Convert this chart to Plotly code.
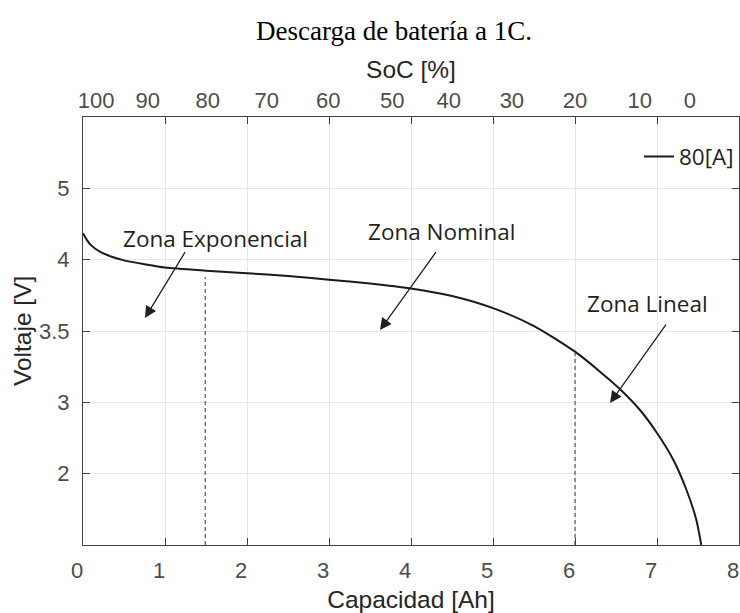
import numpy as np
import plotly.graph_objects as go

# ---- data ----
capacity_ah = [0.0, 0.05, 0.1, 0.2, 0.35, 0.5, 0.75, 1.0, 1.5, 2.0, 2.5, 3.0, 3.5, 4.0, 4.5,
               5.0, 5.5, 6.0, 6.305, 6.55, 6.79, 7.0, 7.2, 7.36, 7.48, 7.54]
voltage_v = [4.37, 4.27, 4.20, 4.115, 4.04, 3.995, 3.968, 3.945, 3.923, 3.905, 3.885, 3.86,
             3.8325, 3.7975, 3.745, 3.66, 3.535, 3.355, 3.215, 3.092, 2.896, 2.57, 2.192,
             1.771, 1.35, 1.0]

# dashed markers separating the zones
zone_limits_ah = [1.49, 6.0]
zone_limits_v = [3.879, 3.346]

# y-axis: evenly spaced labels (non-linear voltage scale)
y_tick_labels = ["2", "3", "3.5", "4", "5"]
y_tick_volts = [1, 2, 3, 3.5, 4, 5, 6]      # volts at axis positions 0..6
y_tick_pos = [0, 1, 2, 3, 4, 5, 6]

x_ticks = [0, 1, 2, 3, 4, 5, 6, 7, 8]

# top SoC axis labels and where they sit on the capacity axis
soc_labels = ["100", "90", "80", "70", "60", "50", "40", "30", "20", "10", "0"]
soc_pos_ah = [0.16, 0.79, 1.52, 2.24, 2.99, 3.77, 4.46, 5.23, 6.0, 6.79, 7.40]


def vpos(v):
    return np.interp(v, y_tick_volts, y_tick_pos)


AX = "#404040"
GRID = "#e6e6e6"
TICKF = dict(family="Liberation Sans, Arial, sans-serif", size=22, color="#4d4d4d")
TITLEF = dict(family="Liberation Sans, Arial, sans-serif", size=24.5, color="#262626")
ANNF = dict(family="Open Sans, sans-serif", size=22.5, color="#231f20")

fig = go.Figure()

fig.add_trace(go.Scatter(x=capacity_ah, y=vpos(voltage_v), mode="lines",
                         line=dict(color="#1a1a1a", width=2, shape="spline", smoothing=0.7),
                         name="80[A]", showlegend=True))

for xa, va in zip(zone_limits_ah, zone_limits_v):
    fig.add_trace(go.Scatter(x=[xa, xa], y=[vpos(1.0), vpos(va)], mode="lines",
                             line=dict(color="#333333", width=1, dash="4px,3px"),
                             showlegend=False, hoverinfo="skip"))

# invisible trace on the top axis so it renders
fig.add_trace(go.Scatter(x=[0, 8], y=[0, 0], xaxis="x2", mode="markers",
                         marker=dict(opacity=0), showlegend=False, hoverinfo="skip"))

fig.update_layout(
    width=740, height=613,
    paper_bgcolor="white", plot_bgcolor="white",
    margin=dict(l=83, r=1, t=117, b=68),
    title=dict(text="Descarga de batería a 1C.", x=394 / 740, xref="container", xanchor="center",
               y=1 - 31 / 613, yref="container", yanchor="middle",
               font=dict(family="Liberation Serif, Times New Roman, serif", size=27, color="#000")),
    xaxis=dict(range=[0, 8], tickvals=x_ticks, ticks="inside", ticklen=7, tickcolor=AX,
               showline=True, linecolor=AX, linewidth=1, mirror="ticks",
               showgrid=True, gridcolor=GRID, gridwidth=1, zeroline=False,
               tickfont=TICKF, ticklabelstandoff=6, ticklabelshift=-6,
               ticklabeloverflow="allow", automargin=False,
               title=dict(text="Capacidad [Ah]", font=TITLEF, standoff=12)),
    xaxis2=dict(overlaying="x", side="top", range=[0, 8], tickvals=soc_pos_ah,
                ticktext=soc_labels, ticks="", showgrid=False, showline=False,
                zeroline=False, tickfont=TICKF, ticklabelstandoff=4,
                ticklabeloverflow="allow", automargin=False,
                title=dict(text="SoC [%]", font=TITLEF, standoff=2)),
    yaxis=dict(range=[0, 6], tickvals=[1, 2, 3, 4, 5], ticktext=y_tick_labels,
               ticks="inside", ticklen=7, tickcolor=AX,
               showline=True, linecolor=AX, linewidth=1, mirror="ticks",
               showgrid=True, gridcolor=GRID, gridwidth=1, zeroline=False,
               tickfont=TICKF, ticklabelstandoff=8, automargin=False),
    legend=dict(x=1, xanchor="right", y=0.957, yanchor="top",
                bgcolor="rgba(0,0,0,0)", borderwidth=0,
                font=ANNF),
    showlegend=True,
)

# y axis title placed as rotated text
fig.add_annotation(text="Voltaje [V]", x=(22 - 83) / 656, y=0.5, xref="paper", yref="paper",
                   xanchor="center", yanchor="middle", textangle=-90, showarrow=False,
                   font=TITLEF)

# zone annotations (text) and arrows
texts = [("Zona Exponencial", 1.61, 4.30), ("Zona Nominal", 4.384, 4.40), ("Zona Lineal", 6.89, 3.38)]
for t, x, y in texts:
    fig.add_annotation(text=t, x=x, y=y, xref="x", yref="y", showarrow=False, font=ANNF)

arrows = [((0.756, 3.182), (1.256, 4.126)),
          ((3.622, 3.014), (4.317, 4.126)),
          ((6.427, 1.991), (7.122, 3.112))]
for (hx, hy), (tx, ty) in arrows:
    fig.add_annotation(x=hx, y=hy, ax=tx, ay=ty, xref="x", yref="y", axref="x", ayref="y",
                       text="", showarrow=True, arrowhead=2, arrowsize=1.8, arrowwidth=1.3,
                       arrowcolor="#231f20", standoff=0)

fig.write_html("out.html", post_script="document.body.style.margin='0';",
               config={"displayModeBar": False})
